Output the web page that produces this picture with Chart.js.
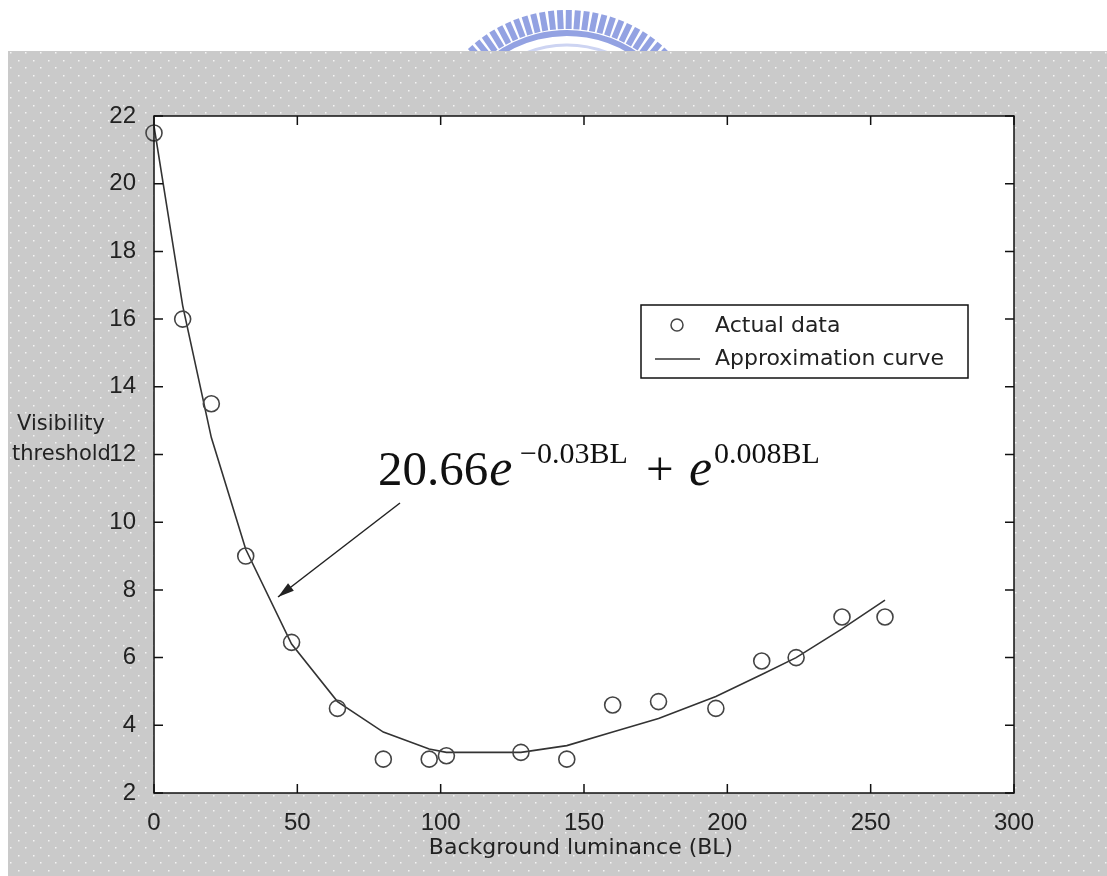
<!DOCTYPE html>
<html>
<head>
<meta charset="utf-8">
<title>Visibility threshold</title>
<script src="https://cdn.jsdelivr.net/npm/chart.js@4"></script>
<style>
    html, body { margin: 0; padding: 0; background: #fff; }
    canvas { display: block; }
</style>
</head>
<body>
<canvas id="myChart" width="1107" height="876"></canvas>
<script>
// Background luminance values (x) and measured thresholds
let bgLuminance = [0, 10, 20, 32, 48, 64, 80, 96, 102, 128, 144, 160, 176, 196, 212, 224, 240, 255];
let actualData = [21.5, 16, 13.5, 9, 6.45, 4.5, 3, 3, 3.1, 3.2, 3, 4.6, 4.7, 4.5, 5.9, 6, 7.2, 7.2];
// Approximation curve
let approxCurve = [21.7, 16.4, 12.5, 9.2, 6.4, 4.7, 3.8, 3.3, 3.2, 3.2, 3.4, 3.8, 4.2, 4.85, 5.5, 6.0, 6.85, 7.7];

let xTicks = [0, 50, 100, 150, 200, 250, 300];
let yTicks = [2, 4, 6, 8, 10, 12, 14, 16, 18, 20, 22];

let sansFont = 'Liberation Sans';
let labelFont = 'DejaVu Sans';
let serifFont = 'Liberation Serif';

function toPoints(xs, ys) {
    let out = [];
    for (let i = 0; i < xs.length; i++) {
        out.push({ x: xs[i], y: ys[i] });
    }
    return out;
}

// Background: logo, dotted gray panel, white axes box
const backdropPlugin = {
    id: 'backdrop',
    beforeDraw: function (chart) {
        const ctx = chart.ctx;
        const W = chart.width, H = chart.height;
        ctx.save();
        ctx.fillStyle = '#ffffff';
        ctx.fillRect(0, 0, W, H);

        // watermark logo (half visible)
        let cx = 567, cy = 155;
        ctx.strokeStyle = '#93a2e2';
        ctx.lineWidth = 6;
        for (let a = -2.55; a <= -0.58; a += 0.062) {
            ctx.beginPath();
            ctx.moveTo(cx + Math.cos(a) * 126, cy + Math.sin(a) * 126);
            ctx.lineTo(cx + Math.cos(a) * 145, cy + Math.sin(a) * 145);
            ctx.stroke();
        }
        ctx.lineWidth = 6;
        ctx.beginPath();
        ctx.arc(cx, cy, 122, -2.6, -0.55);
        ctx.stroke();
        ctx.strokeStyle = '#cdd4f2';
        ctx.lineWidth = 3;
        ctx.beginPath();
        ctx.arc(cx, cy, 110, -2.3, -0.85);
        ctx.stroke();

        // dotted gray panel
        let gx = 8, gy = 51;
        ctx.fillStyle = '#cacaca';
        ctx.fillRect(gx, gy, W - gx, H - gy);
        ctx.fillStyle = '#f4f4f4';
        let row = 0;
        for (let y = gy + 1; y < H; y += 7.5) {
            let off = (row % 2) ? 7.5 : 0;
            for (let x = gx + 2 + off; x < W; x += 15) {
                ctx.fillRect(Math.round(x), Math.round(y), 1.5, 1.5);
            }
            row++;
        }

        const a = chart.chartArea;
        ctx.fillStyle = '#ffffff';
        ctx.fillRect(a.left, a.top, a.right - a.left, a.bottom - a.top);
        ctx.restore();
    }
};

// Box, inward ticks, legend, labels and the formula annotation
const decorPlugin = {
    id: 'decor',
    afterDraw: function (chart) {
        const ctx = chart.ctx;
        const a = chart.chartArea;
        const xs = chart.scales.x, ys = chart.scales.y;
        ctx.save();

        ctx.strokeStyle = '#111';
        ctx.lineWidth = 1.5;
        ctx.strokeRect(a.left, a.top, a.right - a.left, a.bottom - a.top);

        let tl = 9;
        ctx.beginPath();
        xTicks.forEach(function (v) {
            let px = xs.getPixelForValue(v);
            ctx.moveTo(px, a.bottom); ctx.lineTo(px, a.bottom - tl);
            ctx.moveTo(px, a.top); ctx.lineTo(px, a.top + tl);
        });
        yTicks.forEach(function (v) {
            let py = ys.getPixelForValue(v);
            ctx.moveTo(a.left, py); ctx.lineTo(a.left + tl, py);
            ctx.moveTo(a.right, py); ctx.lineTo(a.right - tl, py);
        });
        ctx.stroke();

        // axis titles
        ctx.fillStyle = '#222';
        ctx.font = '22px "' + labelFont + '"';
        ctx.textAlign = 'center';
        ctx.textBaseline = 'middle';
        ctx.fillText('Background luminance (BL)', 581, 848);
        ctx.textAlign = 'left';
        ctx.font = '21px "' + labelFont + '"';
        ctx.fillText('Visibility', 17, 425);
        ctx.fillText('threshold', 12, ys.getPixelForValue(12));

        // legend
        let lx = 641, ly = 305, lw = 327, lh = 73;
        ctx.fillStyle = '#fff';
        ctx.fillRect(lx, ly, lw, lh);
        ctx.strokeStyle = '#111';
        ctx.lineWidth = 1.5;
        ctx.strokeRect(lx, ly, lw, lh);
        const ds = chart.data.datasets;
        ctx.strokeStyle = ds[0].borderColor;
        ctx.beginPath();
        ctx.arc(677, 325, 6, 0, Math.PI * 2);
        ctx.stroke();
        ctx.strokeStyle = ds[1].borderColor;
        ctx.beginPath();
        ctx.moveTo(655, 359); ctx.lineTo(700, 359);
        ctx.stroke();
        ctx.fillStyle = '#222';
        ctx.font = '22px "' + labelFont + '"';
        ctx.textBaseline = 'middle';
        ctx.fillText(ds[0].label, 715, 326);
        ctx.fillText(ds[1].label, 715, 359);

        // formula
        ctx.fillStyle = '#111';
        ctx.textBaseline = 'alphabetic';
        let bx = 378, base = 485, supBase = 463;
        ctx.font = '49px "' + serifFont + '"';
        ctx.fillText('20.66', bx, base);
        bx += ctx.measureText('20.66').width + 1;
        ctx.font = 'italic 52px "' + serifFont + '"';
        ctx.fillText('e', bx, base);
        ctx.font = '30px "' + serifFont + '"';
        ctx.fillText('\u22120.03BL', 520, supBase);
        ctx.font = '49px "' + serifFont + '"';
        ctx.fillText('+', 646, base);
        ctx.font = 'italic 52px "' + serifFont + '"';
        ctx.fillText('e', 689, base);
        ctx.font = '30px "' + serifFont + '"';
        ctx.fillText('0.008BL', 714, supBase);

        // arrow
        let x1 = 400, y1 = 503, x2 = 278, y2 = 597;
        ctx.strokeStyle = '#222';
        ctx.lineWidth = 1.5;
        ctx.beginPath();
        ctx.moveTo(x1, y1); ctx.lineTo(x2, y2);
        ctx.stroke();
        let ang = Math.atan2(y2 - y1, x2 - x1);
        ctx.fillStyle = '#222';
        ctx.beginPath();
        ctx.moveTo(x2, y2);
        ctx.lineTo(x2 - 17 * Math.cos(ang - 0.28), y2 - 17 * Math.sin(ang - 0.28));
        ctx.lineTo(x2 - 17 * Math.cos(ang + 0.28), y2 - 17 * Math.sin(ang + 0.28));
        ctx.closePath();
        ctx.fill();

        ctx.restore();
    }
};

new Chart(document.getElementById('myChart'), {
    type: 'scatter',
    data: {
        datasets: [{
            label: 'Actual data',
            data: toPoints(bgLuminance, actualData),
            showLine: false,
            pointStyle: 'circle',
            pointRadius: 8,
            pointBorderWidth: 1.6,
            borderColor: '#444',
            backgroundColor: 'rgba(0,0,0,0)',
            clip: false
        }, {
            label: 'Approximation curve',
            data: toPoints(bgLuminance, approxCurve),
            showLine: true,
            pointRadius: 0,
            borderColor: '#333',
            borderWidth: 1.6,
            tension: 0,
            clip: false
        }]
    },
    options: {
        responsive: false,
        animation: false,
        devicePixelRatio: 1,
        layout: {
            padding: { top: 116, right: 93, left: 0, bottom: 0 }
        },
        plugins: {
            legend: { display: false },
            tooltip: { enabled: false }
        },
        scales: {
            x: {
                type: 'linear',
                min: 0,
                max: 300,
                afterBuildTicks: function (s) { s.ticks = xTicks.map(v => ({ value: v })); },
                afterFit: function (s) { s.height = 83; },
                grid: { display: false },
                border: { display: false },
                ticks: {
                    padding: 8,
                    color: '#222',
                    maxRotation: 0,
                    font: { family: sansFont, size: 24 }
                }
            },
            y: {
                min: 2,
                max: 22,
                afterBuildTicks: function (s) { s.ticks = yTicks.map(v => ({ value: v })); },
                afterFit: function (s) { s.width = 154; },
                grid: { display: false },
                border: { display: false },
                ticks: {
                    padding: 10,
                    color: '#222',
                    font: { family: sansFont, size: 24 }
                }
            }
        }
    },
    plugins: [backdropPlugin, decorPlugin]
});
</script>
</body>
</html>
